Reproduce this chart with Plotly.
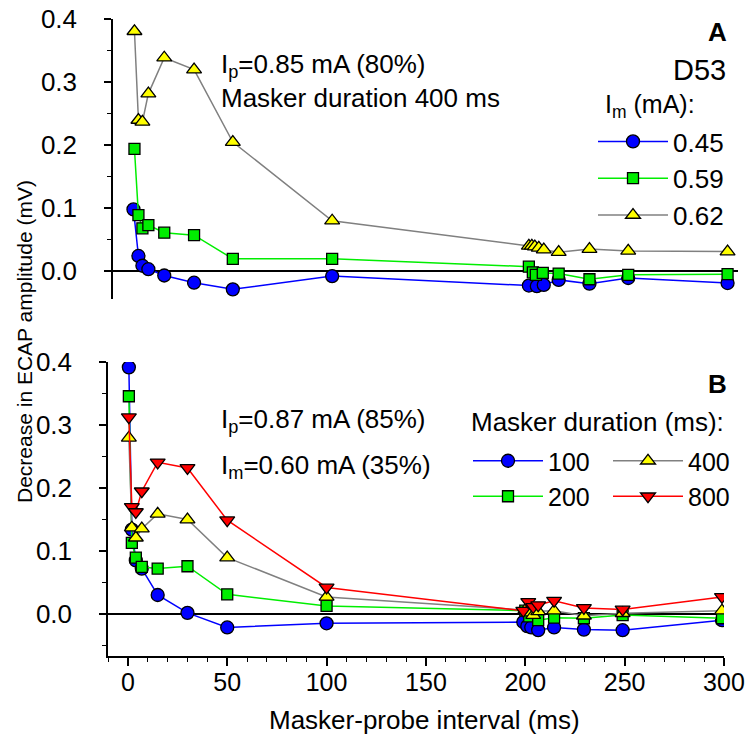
import plotly.graph_objects as go

W, H = 745, 740
FONT = "Liberation Sans, Arial, Helvetica, sans-serif"

# ---------------- Panel A: masker level series (D53, masker 400 ms) ----------------
a_x_045 = [1, 3.5, 5.5, 8.5, 16.5, 31.5, 51, 101, 200, 204, 207.5, 215, 230.5, 250, 300]
a_y_045 = [0.098, 0.024, 0.0085, 0.003, -0.007, -0.0185, -0.029, -0.008,
           -0.023, -0.024, -0.022, -0.014, -0.020, -0.011, -0.019]

a_x_059 = [1.5, 3.5, 5.5, 8.5, 16.5, 31.5, 51, 101, 200, 202, 203.5, 207, 215, 230.5, 250, 300]
a_y_059 = [0.194, 0.089, 0.068, 0.073, 0.061, 0.057, 0.0195, 0.0195,
           0.007, -0.002, -0.006, -0.003, -0.004, -0.013, -0.006, -0.005]

a_x_062 = [1.5, 3.5, 5.5, 8.5, 16.5, 31.5, 51, 101, 200, 201.5, 203, 205, 207.5, 215, 230.5, 250, 300]
a_y_062 = [0.381, 0.240, 0.237, 0.282, 0.339, 0.320, 0.205, 0.080,
           0.040, 0.040, 0.039, 0.037, 0.034, 0.030, 0.035, 0.032, 0.031]

# ---------------- Panel B: masker duration series ----------------
b_x_100 = [0.5, 2, 4, 7, 15, 30, 50, 100, 199, 201, 203, 206.5, 214.5, 229.5, 249, 299]
b_y_100 = [0.392, 0.134, 0.085, 0.072, 0.030, 0.0016, -0.0216, -0.015,
           -0.013, -0.0195, -0.0216, -0.026, -0.0216, -0.025, -0.026, -0.010]

b_x_200 = [0.5, 2, 4, 7, 15, 30, 50, 100, 200, 202, 206.5, 214.5, 229.5, 249, 299]
b_y_200 = [0.346, 0.113, 0.0895, 0.0746, 0.072, 0.0757, 0.031, 0.0127,
           0.005, -0.004, -0.010, -0.006, -0.007, -0.002, -0.007]

b_x_400 = [0.5, 2, 4, 7, 15, 30, 50, 100, 200, 202, 204, 206.5, 214.5, 229.5, 249, 299]
b_y_400 = [0.280, 0.137, 0.121, 0.1355, 0.159, 0.150, 0.0895, 0.027,
           0.006, 0.002, -0.002, 0.004, 0.005, -0.003, 0.001, 0.005]

b_x_800 = [0.5, 2, 4, 7, 15, 30, 50, 100, 199, 201.5, 204, 206.5, 214.5, 229.5, 249, 299]
b_y_800 = [0.3127, 0.170, 0.162, 0.195, 0.241, 0.232, 0.149, 0.042,
           0.005, 0.019, 0.011, 0.014, 0.021, 0.0095, 0.007, 0.027]

x_ticks = [0, 50, 100, 150, 200, 250, 300]


def fx(p):
    return p / W


def fy(p):
    return 1 - p / H


fig = go.Figure()


def add_series(x, y, name, line_color, symbol, fill, size, xa, ya, legend):
    fig.add_trace(go.Scatter(
        x=x, y=y, mode="lines+markers", name=name, legendgroup=name,
        line=dict(color=line_color, width=1.5),
        marker=dict(symbol=symbol, size=size, color=fill,
                    line=dict(color="black", width=1.3)),
        xaxis=xa, yaxis=ya, legend=legend,
    ))


# Panel A traces
add_series(a_x_045, a_y_045, "0.45", "#0000ff", "circle", "#0000ff", 13, "x2", "y2", "legend")
add_series(a_x_059, a_y_059, "0.59", "#00ee00", "square", "#00ee00", 11, "x2", "y2", "legend")
add_series(a_x_062, a_y_062, "0.62", "#808080", "triangle-up", "#ffff00", 13, "x2", "y2", "legend")

# Panel B traces
add_series(b_x_100, b_y_100, "100", "#0000ff", "circle", "#0000ff", 13, "x", "y", "legend2")
add_series(b_x_200, b_y_200, "200", "#00ee00", "square", "#00ee00", 11, "x", "y", "legend2")
add_series(b_x_400, b_y_400, "400", "#808080", "triangle-up", "#ffff00", 13, "x", "y", "legend3")
add_series(b_x_800, b_y_800, "800", "#ff0000", "triangle-down", "#ff0000", 13, "x", "y", "legend3")

yaxis_common = dict(
    showline=True, linecolor="black", linewidth=1.5,
    ticks="outside", ticklen=7, tickwidth=1.5, tickcolor="black",
    dtick=0.1, tick0=0, tickformat=".1f",
    minor=dict(dtick=0.05, ticks="outside", ticklen=4, tickwidth=1.2, tickcolor="black"),
    showgrid=False, zeroline=True, zerolinecolor="black", zerolinewidth=1.5,
    tickfont=dict(family=FONT, size=26, color="black"),
    ticklabelstandoff=22, automargin=False,
)


def legend_style(x, y, size, gap):
    return dict(
        x=fx(x), y=fy(y), xanchor="left", yanchor="top", orientation="v",
        bgcolor="rgba(0,0,0,0)", borderwidth=0,
        font=dict(family=FONT, size=size, color="black"),
        itemwidth=70, tracegroupgap=gap, traceorder="normal",
    )


fig.update_layout(
    width=W, height=H,
    margin=dict(l=0, r=0, t=0, b=0, autoexpand=False),
    paper_bgcolor="white", plot_bgcolor="white",
    font=dict(family=FONT, size=26, color="black"),
    xaxis=dict(
        domain=[fx(108), fx(724)], range=[-10, 300.01], anchor="y",
        showline=True, linecolor="black", linewidth=1.5,
        ticks="outside", ticklen=8, tickwidth=1.5, tickcolor="black",
        tickvals=x_ticks,
        minor=dict(dtick=10, tick0=0, ticks="outside", ticklen=4, tickwidth=1.2, tickcolor="black"),
        showgrid=False, zeroline=False,
        tickfont=dict(family=FONT, size=25, color="black"),
        ticklabelstandoff=-5, ticklabeloverflow="allow", automargin=False,
    ),
    yaxis=dict(domain=[fy(656), fy(362)], range=[-0.067, 0.4005], anchor="x", **yaxis_common),
    xaxis2=dict(domain=[fx(113), fx(737.5)], range=[-9.3, 305], anchor="y2",
                visible=False, automargin=False),
    yaxis2=dict(domain=[fy(299.4), fy(19)], range=[-0.045, 0.4005], anchor="x2", **yaxis_common),
    legend=legend_style(593, 118, 26, 5),
    legend2=dict(**legend_style(468, 438, 25, 0)),
    legend3=dict(**legend_style(608, 438, 25, 0)),
    showlegend=True,
)


def note(text, x, y, xanchor="left", size=26, bold=False, angle=0):
    if bold:
        text = "<b>" + text + "</b>"
    fig.add_annotation(
        text=text, x=fx(x), y=fy(y), xref="paper", yref="paper",
        xanchor=xanchor, yanchor="middle", showarrow=False, textangle=angle,
        font=dict(family=FONT, size=size, color="black"),
    )


# Panel A labels
note("A", 729, 32, xanchor="right", size=26, bold=True)
note("D53", 728, 70, xanchor="right", size=29)
note("I<sub>m</sub> (mA):", 603, 106, size=25)
note("I<sub>p</sub>=0.85 mA (80%)", 219, 66)
note("Masker duration 400 ms", 219, 98)

# Panel B labels
note("B", 729, 384, xanchor="right", size=26, bold=True)
note("I<sub>p</sub>=0.87 mA (85%)", 219, 420)
note("I<sub>m</sub>=0.60 mA (35%)", 219, 466)
note("Masker duration (ms):", 469, 422)

# Shared axis titles
note("Masker-probe interval (ms)", 425, 720, xanchor="center", size=26)
note("Decrease in ECAP amplitude (mV)", 25, 342, xanchor="center", size=21, angle=-90)

fig.write_html("out.html")
